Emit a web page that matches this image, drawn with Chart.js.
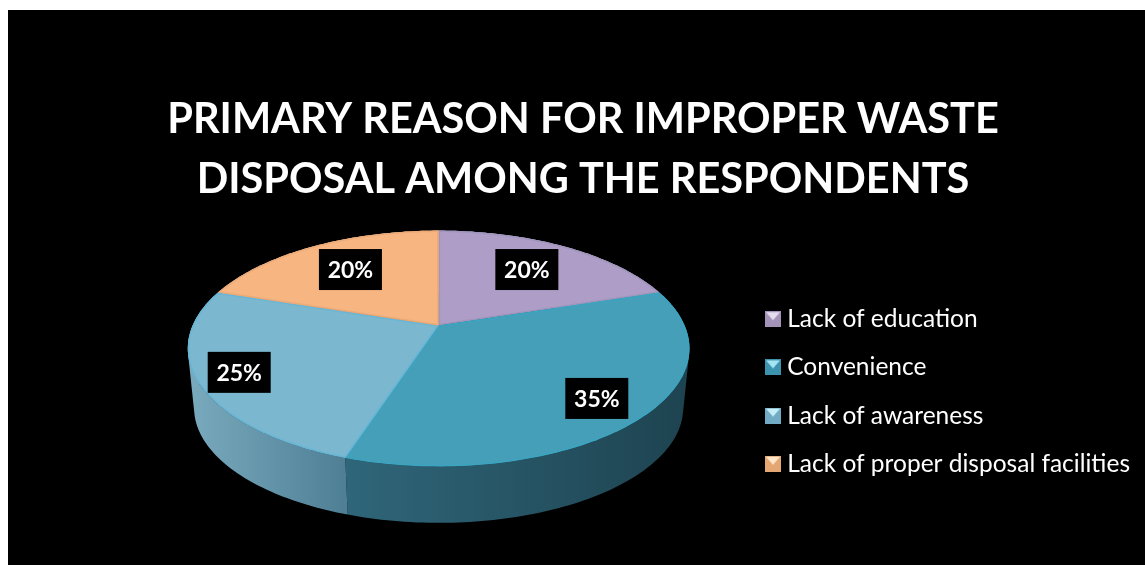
<!DOCTYPE html>
<html>
<head>
<meta charset="utf-8">
<title>Primary reason for improper waste disposal</title>
<script src="https://cdn.jsdelivr.net/npm/chart.js@4/dist/chart.umd.min.js"></script>
<style>
  html, body { margin: 0; background: #fff; }
  #chart { position: absolute; left: 8px; top: 10px; background: #000; }
</style>
</head>
<body>
<canvas id="chart" width="1137" height="555"></canvas>
<script>
const titleLines = ['PRIMARY REASON FOR IMPROPER WASTE', 'DISPOSAL AMONG THE RESPONDENTS'];
const reasons = ['Lack of education', 'Convenience', 'Lack of awareness', 'Lack of proper disposal facilities'];
const shares = [20, 35, 25, 20];
const faceColors = ['#ae9dc6', '#459fb9', '#7cb7d0', '#f7b581'];
const edgeColors = ['#a096bc', '#3ca4c0', '#68b6d6', '#eaab7a'];
const wallColors = [['#6e6284', '#6e6284'], ['#2f6679', '#1e4350'], ['#7aaabd', '#4f7f95'], ['#9a7050', '#9a7050']];
const iconColors = [['#a493b8', '#e4dcef'], ['#3b93ad', '#a5e4f2'], ['#71acc4', '#c4eef8'], ['#e4a672', '#ffe6c8']];

// tilted disc: w = 1 - tilt.p * v gives the foreshortening towards the viewer
const tilt = { squash: 0.461, p: 0.195, depth: 60, baseScale: 0.975 };

function project(arc, angle, scale, dropY, rho) {
  const u = Math.cos(angle) * rho;
  const v = Math.sin(angle) * rho;
  const w = 1 - tilt.p * v;
  return {
    x: arc.x + scale * arc.outerRadius * u / w,
    y: arc.y + dropY + scale * arc.outerRadius * tilt.squash * v / w
  };
}

function rimPoints(arc, scale, dropY) {
  const pts = [];
  const steps = Math.ceil((arc.endAngle - arc.startAngle) / 0.02);
  for (let i = 0; i <= steps; i++) {
    const a = arc.startAngle + (arc.endAngle - arc.startAngle) * i / steps;
    pts.push(project(arc, a, scale, dropY, 1));
  }
  return pts;
}

function addPolygon(ctx, pts) {
  pts.forEach((p, i) => i ? ctx.lineTo(p.x, p.y) : ctx.moveTo(p.x, p.y));
  ctx.closePath();
}

function signedArea(pts) {
  return pts.reduce((sum, p, i) => {
    const q = pts[(i + 1) % pts.length];
    return sum + p.x * q.y - q.x * p.y;
  }, 0);
}

const tiltedPie = {
  id: 'tiltedPie',
  // replaces the flat arcs with the disc, still using each arc's own angles
  beforeDatasetDraw(chart, args) {
    const ctx = chart.ctx;
    const arcs = args.meta.data;

    arcs.forEach((arc, i) => {
      const top = rimPoints(arc, 1, 0);
      const base = rimPoints(arc, tilt.baseScale, tilt.depth);
      const xs = top.map(p => p.x);
      const grad = ctx.createLinearGradient(Math.min(...xs), 0, Math.max(...xs), 0);
      const stops = wallColors[i];
      grad.addColorStop(0, stops[0]);
      grad.addColorStop(1, stops[1]);
      ctx.save();
      ctx.fillStyle = grad;
      // one quad per step in a single path, all wound the same way so overlaps at the
      // sides of the disc don't cancel out
      ctx.beginPath();
      for (let s = 0; s < top.length - 1; s++) {
        const quad = [top[s], top[s + 1], base[s + 1], base[s]];
        addPolygon(ctx, signedArea(quad) < 0 ? quad.reverse() : quad);
      }
      ctx.fill();
      ctx.restore();
    });

    arcs.forEach((arc, i) => {
      const pts = [{ x: arc.x, y: arc.y }].concat(rimPoints(arc, 1, 0));
      ctx.save();
      ctx.beginPath();
      addPolygon(ctx, pts);
      ctx.fillStyle = arc.options.backgroundColor;
      ctx.fill();
      ctx.clip();
      ctx.strokeStyle = edgeColors[i];
      ctx.lineWidth = 3;
      ctx.stroke();
      ctx.restore();
    });
    return false;
  },
  afterDatasetsDraw(chart, args, opts) {
    const ctx = chart.ctx;
    const arcs = chart.getDatasetMeta(0).data;
    ctx.save();
    ctx.font = opts.font;
    ctx.textAlign = 'center';
    ctx.textBaseline = 'middle';
    arcs.forEach((arc, i) => {
      const mid = (arc.startAngle + arc.endAngle) / 2;
      const c = project(arc, mid, 1, 0, opts.labelRadius[i]);
      ctx.fillStyle = '#000';
      ctx.fillRect(c.x - opts.boxWidth / 2, c.y - opts.boxHeight / 2, opts.boxWidth, opts.boxHeight);
      ctx.fillStyle = '#fff';
      ctx.fillText(shares[i] + '%', c.x, c.y + 1);
    });
    ctx.restore();
  }
};

// moves the title and legend boxes off the positions the pie's padding gives them
const boxOffsets = {
  id: 'boxOffsets',
  afterLayout(chart, args, opts) {
    const legend = chart.legend;
    legend.top += opts.legendY;
    legend.bottom += opts.legendY;
    legend.left += opts.legendX;
    legend.right += opts.legendX;
    chart.titleBlock.left += opts.titleX;
    chart.titleBlock.right += opts.titleX;
  }
};

function makeIcon(colors) {
  const size = 16;
  const c = document.createElement('canvas');
  c.width = size;
  c.height = size;
  const g = c.getContext('2d');
  g.fillStyle = colors[0];
  g.fillRect(0, 0, size, size);
  g.fillStyle = colors[1];
  g.beginPath();
  g.moveTo(1, 1);
  g.lineTo(size - 1, 1);
  g.lineTo(size / 2, size / 2 + 1);
  g.closePath();
  g.fill();
  return c;
}
const icons = iconColors.map(makeIcon);

new Chart(document.getElementById('chart'), {
  type: 'pie',
  data: {
    labels: reasons,
    datasets: [{
      data: shares,
      backgroundColor: faceColors,
      borderWidth: 0
    }]
  },
  options: {
    responsive: false,
    animation: false,
    radius: 246,
    layout: { padding: { left: 117, bottom: 128 } },
    plugins: {
      tooltip: { enabled: false },
      title: {
        display: true,
        text: titleLines,
        color: '#fff',
        font: { family: 'Lato', weight: 'bold', size: 41.5, lineHeight: 1.446 },
        padding: { top: 80, bottom: 4 }
      },
      legend: {
        position: 'right',
        labels: {
          color: '#fff',
          font: { family: 'Lato', size: 24.5 },
          usePointStyle: true,
          pointStyleWidth: 4,
          padding: 23.7,
          generateLabels(chart) {
            const items = Chart.overrides.pie.plugins.legend.labels.generateLabels(chart);
            items.forEach((item, i) => { item.pointStyle = icons[i]; });
            return items;
          }
        }
      },
      tiltedPie: {
        font: 'bold 23px Lato',
        boxWidth: 63,
        boxHeight: 41,
        labelRadius: [0.675, 0.808, 0.842, 0.675]
      },
      boxOffsets: { legendX: -5, legendY: 168, titleX: -52 }
    }
  },
  plugins: [tiltedPie, boxOffsets]
});
</script>
</body>
</html>
